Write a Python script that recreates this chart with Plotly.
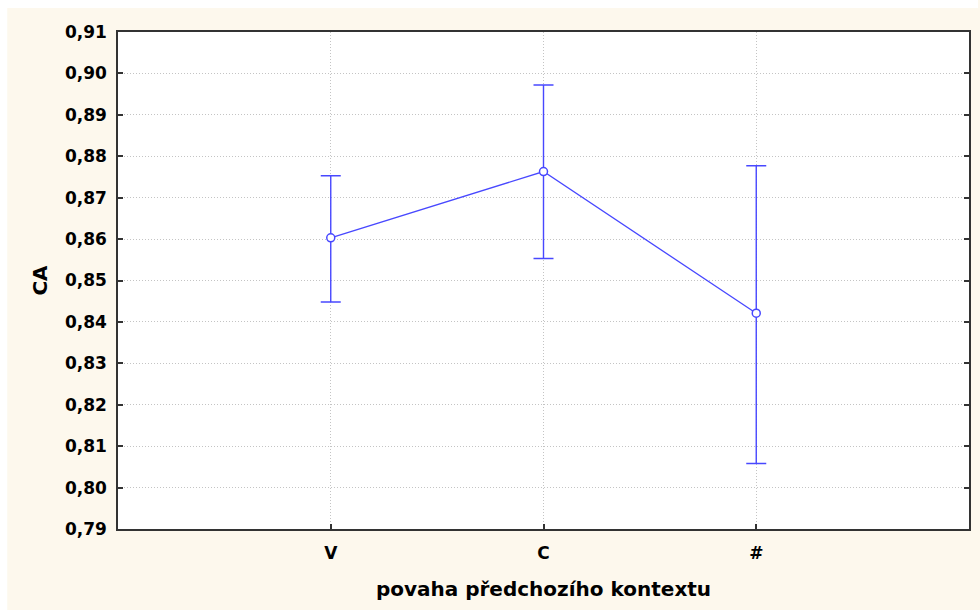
import plotly.graph_objects as go

# Context categories and mean CA with confidence limits
categories = ["V", "C", "#"]
ca_mean = [0.8603, 0.8763, 0.8421]
ca_upper = [0.8753, 0.8972, 0.8777]
ca_lower = [0.8448, 0.8553, 0.8058]

y_ticks = [0.79, 0.80, 0.81, 0.82, 0.83, 0.84, 0.85, 0.86, 0.87, 0.88, 0.89, 0.90, 0.91]

err_plus = [u - m for u, m in zip(ca_upper, ca_mean)]
err_minus = [m - l for m, l in zip(ca_mean, ca_lower)]

blue = "rgb(72,72,255)"
axis_col = "#333333"
grid_col = "#c4c4c4"
font_family = "'DejaVu Sans', sans-serif"

fig = go.Figure()
fig.add_trace(go.Scatter(
    x=list(range(len(categories))),
    y=ca_mean,
    mode="lines+markers",
    line=dict(color=blue, width=1.3),
    marker=dict(symbol="circle", size=8, color="white",
                line=dict(color=blue, width=1.5)),
    error_y=dict(type="data", symmetric=False, array=err_plus,
                 arrayminus=err_minus, color=blue, thickness=1.4, width=10),
    showlegend=False,
))

# thin white strips along the top and left edge of the page
pw, ph = 853, 497
white_strips = [
    dict(type="rect", xref="paper", yref="paper",
         x0=-118 / pw, x1=1 + 9 / pw, y0=1 + 24 / ph, y1=1 + 40 / ph,
         fillcolor="white", line=dict(width=0), layer="above"),
    dict(type="rect", xref="paper", yref="paper",
         x0=-130 / pw, x1=-111 / pw, y0=-81 / ph, y1=1 + 40 / ph,
         fillcolor="white", line=dict(width=0), layer="above"),
]

fig.update_layout(
    width=980, height=610,
    margin=dict(l=118, r=9, t=32, b=81),
    paper_bgcolor="#fdf8ed",
    plot_bgcolor="white",
    separators=", ",
    font=dict(family=font_family, color="black", size=17, weight="bold"),
    shapes=white_strips,
)

fig.update_xaxes(
    range=[-1, 3],
    tickmode="array",
    tickvals=list(range(len(categories))),
    ticktext=categories,
    ticks="inside", ticklen=5, tickcolor=axis_col, tickwidth=1.5,
    showline=True, linecolor=axis_col, linewidth=1.5, mirror=True,
    showgrid=True, gridcolor=grid_col, gridwidth=1, griddash="1px,2px",
    zeroline=False,
    tickfont=dict(size=17, weight="bold"),
    ticklabelstandoff=8,
    title=dict(text="povaha předchozího kontextu", standoff=20,
               font=dict(size=20, weight="bold")),
)

fig.update_yaxes(
    range=[0.79, 0.91],
    tickmode="array",
    tickvals=y_ticks,
    tickformat=".2f",
    ticks="inside", ticklen=5, tickcolor=axis_col, tickwidth=1.5,
    showline=True, linecolor=axis_col, linewidth=1.5, mirror="ticks",
    showgrid=True, gridcolor=grid_col, gridwidth=1, griddash="1px,2px",
    zeroline=False,
    tickfont=dict(size=17, weight="bold"),
    ticklabelstandoff=6,
    title=dict(text="CA", standoff=12, font=dict(size=20, weight="bold")),
)

fig.write_html("out.html")
